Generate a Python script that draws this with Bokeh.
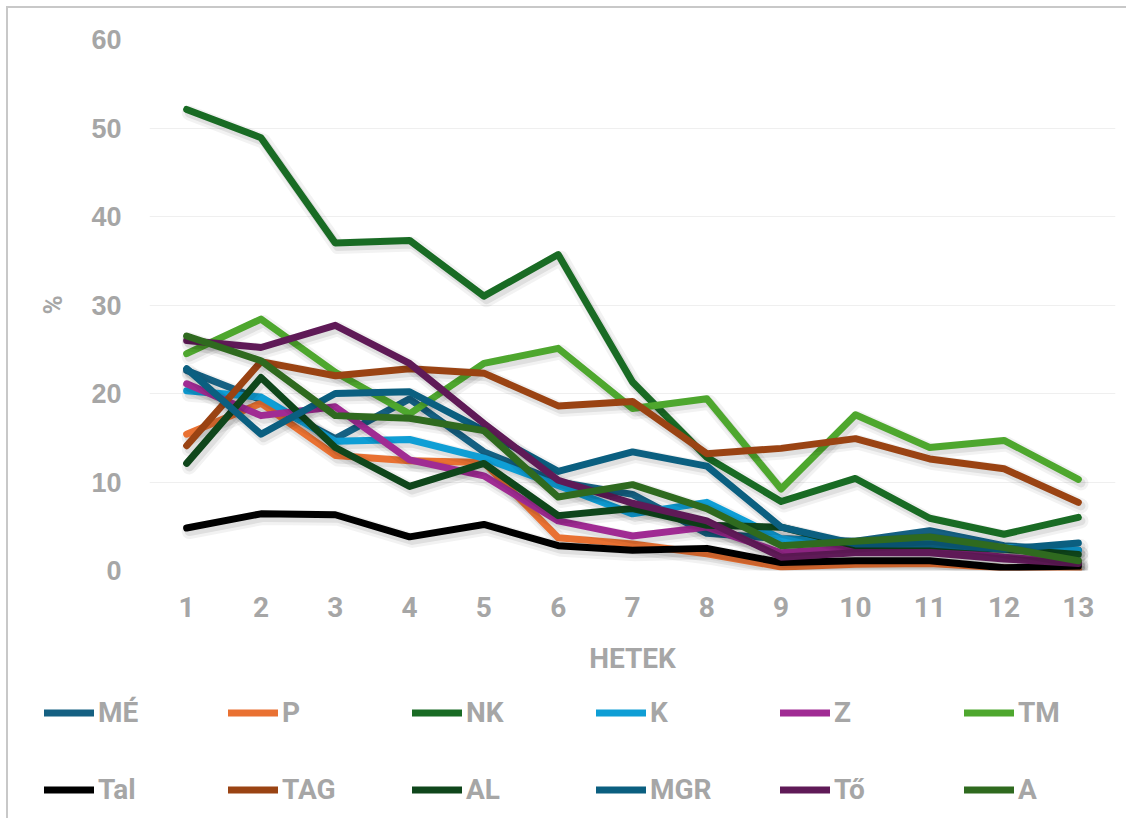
from bokeh.plotting import figure
from bokeh.models import Legend, LegendItem, Range1d, ColumnDataSource, FixedTicker
from bokeh.transform import dodge
from bokeh.embed import file_html
from bokeh.resources import INLINE

# ---- data ----
weeks = list(range(1, 14))
week_labels = [str(w) for w in weeks]

ME  = [22.6, 19.3, 14.9, 19.4, 13.4, 10.0, 8.6, 4.2, 3.6, 3.3, 4.5, 2.8, 2.3]
P   = [15.4, 18.9, 13.0, 12.4, 12.2, 3.7, 3.0, 1.9, 0.4, 0.7, 0.8, 0.3, 0.1]
NK  = [52.1, 48.9, 37.0, 37.3, 31.0, 35.7, 21.3, 12.8, 7.8, 10.4, 5.9, 4.1, 6.0]
K   = [20.3, 19.6, 14.6, 14.8, 12.7, 9.6, 6.4, 7.7, 3.6, 3.1, 3.4, 2.6, 2.3]
Z   = [21.1, 17.5, 18.5, 12.5, 10.7, 5.6, 3.9, 4.9, 2.0, 2.6, 2.4, 1.5, 0.9]
TM  = [24.5, 28.4, 22.4, 17.7, 23.4, 25.1, 18.3, 19.4, 9.2, 17.6, 13.9, 14.7, 10.3]
Tal = [4.8, 6.4, 6.3, 3.8, 5.2, 2.8, 2.3, 2.5, 0.9, 1.1, 1.1, 0.3, 0.5]
TAG = [14.1, 23.6, 22.0, 22.8, 22.3, 18.6, 19.1, 13.2, 13.8, 14.9, 12.6, 11.5, 7.7]
AL  = [12.1, 21.8, 13.9, 9.5, 12.1, 6.2, 7.0, 5.1, 4.9, 2.8, 2.8, 2.4, 1.8]
MGR = [22.8, 15.4, 20.0, 20.2, 15.8, 11.2, 13.4, 11.8, 4.9, 3.0, 3.0, 2.4, 3.1]
TO  = [26.0, 25.2, 27.7, 23.4, 16.6, 10.2, 7.6, 5.6, 1.5, 2.0, 2.0, 1.3, 0.8]
A   = [26.5, 23.7, 17.5, 17.2, 15.8, 8.3, 9.7, 7.0, 2.8, 3.3, 3.8, 2.6, 1.1]

series_names = ["MÉ", "P", "NK", "K", "Z", "TM", "Tal", "TAG", "AL", "MGR", "Tő", "A"]
series_values = [ME, P, NK, K, Z, TM, Tal, TAG, AL, MGR, TO, A]
series_colors = ["#156082", "#e97132", "#196b24", "#0f9ed5", "#a02b93", "#4ea72e",
                 "#000000", "#9a4313", "#0f461b", "#0b5f80", "#5f1a57", "#2f6a1f"]

y_ticks = [0, 10, 20, 30, 40, 50, 60]

# ---- main chart ----
W = 1120
GRAY = "#a6a6a6"
FONT = "Roboto"
EDGE = "2px solid #c8c8c8"

p = figure(width=W, height=678, output_backend="svg", toolbar_location=None,
           x_range=Range1d(0.5, 13.5), y_range=Range1d(0, 60),
           min_border_left=141, min_border_right=13, min_border_top=31,
           min_border_bottom=116)
p.styles = {"margin-left": "6px", "margin-top": "6px",
            "border-left": EDGE, "border-top": EDGE}
p.outline_line_color = None
p.background_fill_color = "white"
p.border_fill_color = "white"

p.xgrid.grid_line_color = None
p.ygrid.grid_line_color = "#efefef"
p.ygrid.grid_line_width = 1

p.xaxis.ticker = FixedTicker(ticks=weeks)
p.xaxis.major_label_overrides = {w: l for w, l in zip(weeks, week_labels)}
p.yaxis.ticker = FixedTicker(ticks=y_ticks)
for ax in (p.xaxis[0], p.yaxis[0]):
    ax.axis_line_color = None
    ax.major_tick_line_color = None
    ax.minor_tick_line_color = None
    ax.major_tick_out = 0
    ax.major_tick_in = 0
    ax.major_label_text_color = GRAY
    ax.major_label_text_font = FONT
    ax.major_label_text_font_style = "bold"
    ax.axis_label_text_color = GRAY
    ax.axis_label_text_font = FONT
    ax.axis_label_text_font_style = "bold"

p.xaxis.major_label_text_font_size = "28px"
p.xaxis.major_label_standoff = 26
p.xaxis.axis_label = "HETEK"
p.xaxis.axis_label_text_font_size = "28px"
p.xaxis.axis_label_standoff = 22

p.yaxis.major_label_text_font = "'Liberation Sans', sans-serif"
p.yaxis.major_label_text_font_size = "27px"
p.yaxis.major_label_standoff = 28
p.yaxis.axis_label = "%"
p.yaxis.axis_label_text_font_size = "26px"
p.yaxis.axis_label_standoff = 20

for name, vals, col in zip(series_names, series_values, series_colors):
    src = ColumnDataSource(dict(x=weeks, y=vals))
    # soft drop shadow
    p.line(x=dodge("x", 0.035), y=dodge("y", -0.4), source=src, line_color="black",
           line_alpha=0.05, line_width=15, line_join="round", line_cap="round")
    p.line(x=dodge("x", 0.035), y=dodge("y", -0.4), source=src, line_color="black",
           line_alpha=0.08, line_width=9, line_join="round", line_cap="round")
    p.line(x="x", y="y", source=src, line_color=col, line_width=7,
           line_join="round", line_cap="round")

# ---- legend strip (separate root so its frame spans the full width) ----
lf = figure(width=W, height=134, output_backend="svg", toolbar_location=None,
            x_axis_type=None, y_axis_type=None,
            x_range=Range1d(100, 101), y_range=Range1d(100, 101),
            min_border_left=0, min_border_right=0, min_border_top=0, min_border_bottom=0)
lf.styles = {"margin-left": "6px", "border-left": EDGE}
lf.outline_line_color = None
lf.grid.grid_line_color = None
lf.background_fill_color = "white"
lf.border_fill_color = "white"

handles = {}
for name, vals, col in zip(series_names, series_values, series_colors):
    handles[name] = lf.line(x=weeks, y=vals, line_color=col, line_width=7, line_cap="round")

# legend fills column by column: reorder so rows read as in the reference
ncols = 6
row1, row2 = series_names[:ncols], series_names[ncols:]
ordered = [n for pair in zip(row1, row2) for n in pair]
items = [LegendItem(label=n, renderers=[handles[n]]) for n in ordered]

legend = Legend(items=items, ncols=ncols, location=(36, 0),
                glyph_width=50, glyph_height=57, label_height=57, label_width=110,
                label_standoff=4, spacing=20, padding=0, margin=0,
                border_line_color=None, background_fill_alpha=0,
                label_text_font=FONT, label_text_font_size="28px",
                label_text_font_style="bold", label_text_color=GRAY)
lf.add_layout(legend, "center")

open("out.html", "w").write(file_html([p, lf], INLINE))
